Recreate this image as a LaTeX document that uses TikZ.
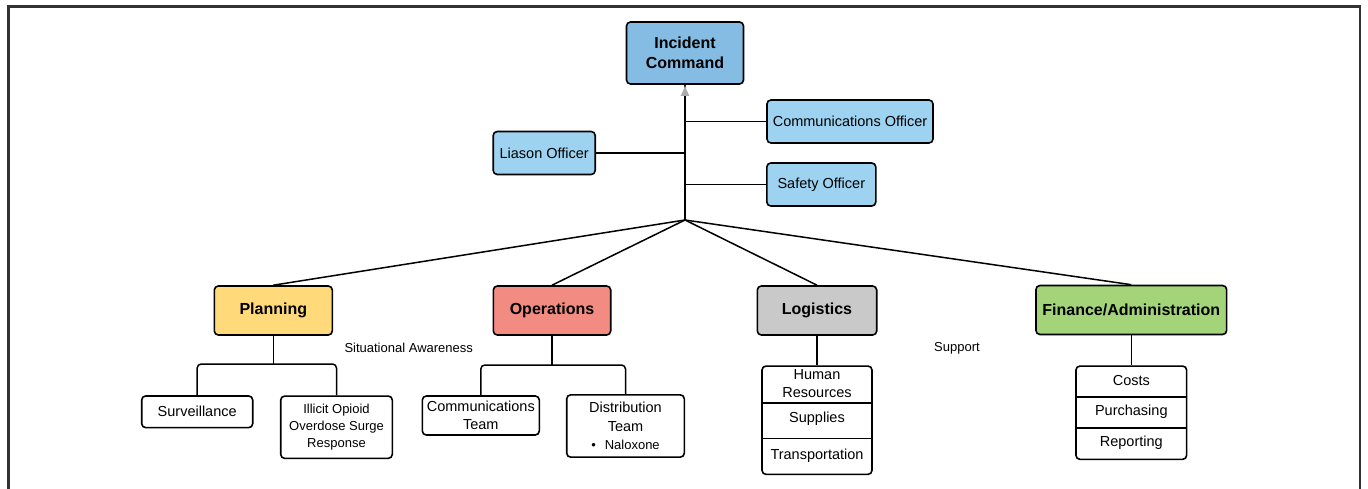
\documentclass[tikz,border=0pt]{standalone}
\usepackage{fontspec}
\setmainfont{Liberation Sans}
\usetikzlibrary{arrows.meta}
\definecolor{cmdblue}{HTML}{85BCE3}
\definecolor{offblue}{HTML}{9DD3F0}
\definecolor{planyellow}{HTML}{FFD97A}
\definecolor{opsred}{HTML}{F28B82}
\definecolor{loggray}{HTML}{C9C9C9}
\definecolor{fingreen}{HTML}{A3D47A}
\begin{document}
\begin{tikzpicture}[x=1pt, y=-1pt, line width=1.5pt,
    main/.style = {draw, rounded corners=4pt, line width=1.6pt, align=center, inner sep=0pt, font=\fontsize{14.5}{18.3}\selectfont},
    head/.style = {main, minimum height=49pt, font=\bfseries\fontsize{16}{20.5}\selectfont},
    officer/.style = {main, fill=offblue, minimum height=43pt},
    team/.style = {main, fill=white},
    txt/.style = {align=center, inner sep=0pt, font=\fontsize{14.5}{18.3}\selectfont},
    note/.style = {inner sep=0pt, font=\fontsize{13}{16}\selectfont}]
    \useasboundingbox (0,0) rectangle (1368,489);
    \draw[line width=2.5pt, draw=black!80] (8.5,500) -- (8.5,6.5) -- (1360,6.5) -- (1360,500);

    \node[head, fill=cmdblue, minimum width=117pt, minimum height=62pt] (ic) at (685,53) {Incident\\Command};
    \node[officer, minimum width=166pt] (comm) at (850,121.5) {Communications Officer};
    \node[officer, minimum width=109pt] (safety) at (821.3,184.5) {Safety Officer};
    \node[officer, minimum width=102pt] (liason) at (544.2,153) {Liason Officer};
    \coordinate (hub) at (685,220);
    \coordinate (tcomm) at (hub |- comm);
    \coordinate (tsafety) at (hub |- safety);
    \coordinate (tliason) at (hub |- liason);
    \draw (hub) -- (ic);
    \draw[-{Latex[length=11pt, width=9pt, color=gray!65]}] (hub) -- (ic);
    \draw (comm) -- (tcomm);
    \draw (safety) -- (tsafety);
    \draw (liason) -- (tliason);

    \node[head, fill=planyellow, minimum width=118pt] (plan) at (273.3,310.5) {Planning};
    \node[head, fill=opsred, minimum width=117.4pt] (ops) at (552,310.5) {Operations};
    \node[head, fill=loggray, minimum width=119.4pt] (log) at (817,310.5) {Logistics};
    \node[head, fill=fingreen, minimum width=190.7pt] (fin) at (1131.3,310) {Finance/Administration};
    \draw (hub) -- (plan.north);
    \draw (hub) -- (ops.north);
    \draw (hub) -- (log.north);
    \draw (hub) -- (fin.north);

    \node[note] (aware) at (408.7,348) {Situational Awareness};
    \node[note] (support) at (957,348) {Support};

    \node[team, minimum width=111pt, minimum height=31.7pt] (surv) at (197.2,411.8) {Surveillance};
    \node[team, minimum width=111.6pt, minimum height=62.3pt, font=\fontsize{13}{17.3}\selectfont] (opioid) at (336.5,427.2) {Illicit Opioid\\Overdose Surge\\Response};
    \coordinate (pj) at (273.3,364);
    \draw (plan) -- (pj);
    \draw[rounded corners=4pt] (surv) |- (pj) -| (opioid);

    \node[team, minimum width=117pt, minimum height=39pt] (cteam) at (480.8,415.5) {Communications\\Team};
    \node[team, minimum width=117.6pt, minimum height=62.3pt] (dteam) at (625.5,426) {Distribution\\Team\\{\fontsize{13}{16}\selectfont\textbullet\hspace{9pt}Naloxone}};
    \coordinate (oj) at (552,365);
    \draw (ops) -- (oj);
    \draw[rounded corners=4pt] (cteam) |- (oj) -| (dteam);

    \node[team, minimum width=110pt, minimum height=108.3pt] (logbox) at (817,420.2) {};
    \draw (log) -- (logbox);
    \draw[line width=1.6pt] (logbox.west |- 0,402.7) -- (logbox.east |- 0,402.7);
    \draw[line width=1.6pt] (logbox.west |- 0,438.3) -- (logbox.east |- 0,438.3);
    \node[txt] (hr) at (817,383.5) {Human\\Resources};
    \node[txt] (supplies) at (817,419) {Supplies};
    \node[txt] (transport) at (817,456) {Transportation};

    \node[team, minimum width=110.7pt, minimum height=93.3pt] (finbox) at (1131.3,412.7) {};
    \draw (fin) -- (finbox);
    \draw[line width=1.6pt] (finbox.west |- 0,396.7) -- (finbox.east |- 0,396.7);
    \draw[line width=1.6pt] (finbox.west |- 0,427.7) -- (finbox.east |- 0,427.7);
    \node[txt] (costs) at (1131.3,380.5) {Costs};
    \node[txt] (purchasing) at (1131.3,411.5) {Purchasing};
    \node[txt] (reporting) at (1131.3,442.5) {Reporting};
\end{tikzpicture}
\end{document}
